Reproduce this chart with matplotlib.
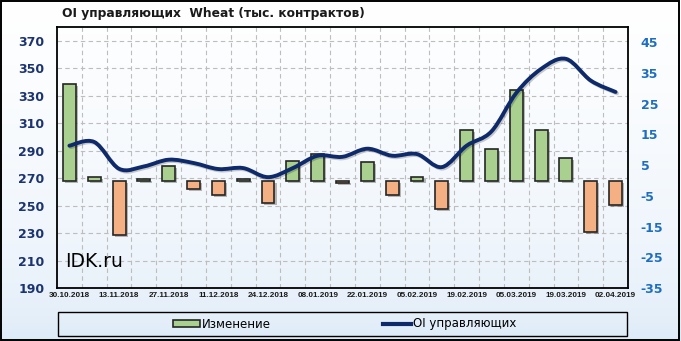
import matplotlib
matplotlib.use("Agg")
import matplotlib.pyplot as plt
import matplotlib.patheffects as pe
from matplotlib.colors import LinearSegmentedColormap
from matplotlib.patches import Rectangle, Patch, PathPatch
from matplotlib.lines import Line2D
from matplotlib.path import Path
import numpy as np

plt.rcParams["axes.unicode_minus"] = False

# ---------------------- Data ---------------------------
dates = ["30.10.2018", "06.11.2018", "13.11.2018", "20.11.2018", "27.11.2018",
         "04.12.2018", "11.12.2018", "18.12.2018", "24.12.2018", "31.12.2018",
         "08.01.2019", "15.01.2019", "22.01.2019", "29.01.2019", "05.02.2019",
         "12.02.2019", "19.02.2019", "26.02.2019", "05.03.2019", "12.03.2019",
         "19.03.2019", "26.03.2019", "02.04.2019"]

# weekly change (right axis)
change = [31.4, 1.3, -17.7, 0.6, 4.7, -2.6, -4.8, 0.6, -7.4, 6.5, 8.8, -0.8,
          6.0, -4.7, 1.1, -9.4, 16.5, 10.3, 29.5, 16.5, 7.3, -16.8, -7.9]

# open interest of managed money (left axis)
oi = [293.6, 296.3, 276.8, 278.5, 283.4, 281.0, 276.6, 277.3, 270.7, 277.3,
      286.3, 285.5, 291.4, 286.3, 287.5, 278.0, 293.6, 304.0, 332.0, 349.5,
      356.8, 341.0, 332.7]

left_ticks = [190, 210, 230, 250, 270, 290, 310, 330, 350, 370]
right_ticks = [-35, -25, -15, -5, 5, 15, 25, 35, 45]

# ---------------------- Styles ---------------------------
green = "#A9D08E"
orange = "#F4B083"
edge = "#262626"
navy = "#0E2A6B"
left_col = "#1B3370"
right_col = "#1E6EC0"

fig = plt.figure(figsize=(6.81, 3.41), dpi=100)

# background gradient
bg = fig.add_axes([0, 0, 1, 1], zorder=-10)
grad = np.linspace(0, 1, 256).reshape(-1, 1) ** 0.45
cmap = LinearSegmentedColormap.from_list("bg", ["#D9E8F7", "#FFFFFF"])
bg.imshow(grad, aspect="auto", cmap=cmap, origin="lower", extent=[0, 1, 0, 1])
bg.set_axis_off()
fig.add_artist(Rectangle((0.002, 0.003), 0.995, 0.994, transform=fig.transFigure,
                         fill=False, edgecolor="black", linewidth=1.4))

pos = [57 / 681, 53 / 341, 571 / 681, 261 / 341]
n = len(dates)
x = np.arange(n)

# ---------------------- Grid / left axis ---------------------------
ax = fig.add_axes(pos)
ax.patch.set_alpha(0)
ax.set_xlim(-0.5, n - 0.5)
ax.set_ylim(190, 380)
ax.set_yticks(left_ticks)
ax.set_xticks(x[::2])
ax.set_xticklabels(dates[::2], fontsize=5.9, fontweight="bold",
                   family=["Liberation Sans", "DejaVu Sans"], color="#1a1a1a")
ax.set_xticks(np.arange(0.5, n - 1, 1), minor=True)
ax.tick_params(axis="x", which="both", length=0, pad=3)
ax.tick_params(axis="y", length=0, pad=9, labelcolor=left_col)
for lab in ax.get_yticklabels():
    lab.set_fontweight("bold")
    lab.set_fontsize(9)
ax.grid(True, axis="y", which="major", color="#BDBDBD", linestyle=(0, (4, 3)), linewidth=0.8)
ax.grid(True, axis="x", which="minor", color="#BDBDBD", linestyle=(0, (4, 3)), linewidth=0.8)
for s in ax.spines.values():
    s.set_linewidth(1.3)
    s.set_color("black")

# ---------------------- Bars (right axis) ---------------------------
axb = ax.twinx()
axb.set_ylim(-35, 50)
axb.set_yticks(right_ticks)
axb.tick_params(axis="y", length=0, pad=9, labelcolor=right_col)
for lab in axb.get_yticklabels():
    lab.set_fontweight("bold")
    lab.set_fontsize(9)
colors = [green if v >= 0 else orange for v in change]
bars = axb.bar(x, change, width=0.52, color=colors, edgecolor=edge, linewidth=1.2)
for b in bars:
    b.set_path_effects([pe.SimplePatchShadow(offset=(1.5, -1.5), alpha=0.35), pe.Normal()])
for s in axb.spines.values():
    s.set_visible(False)

# ---------------------- Smoothed line (left scale) ---------------------------
axl = ax.twinx()
axl.set_ylim(190, 380)
axl.set_yticks([])
for s in axl.spines.values():
    s.set_visible(False)

pts = np.column_stack([x, oi]).astype(float)
ext = np.vstack([pts[0], pts, pts[-1]])
verts = [tuple(pts[0])]
codes = [Path.MOVETO]
for i in range(n - 1):
    p0, p1, p2, p3 = ext[i], ext[i + 1], ext[i + 2], ext[i + 3]
    c1 = p1 + (p2 - p0) / 6.0
    c2 = p2 - (p3 - p1) / 6.0
    verts += [tuple(c1), tuple(c2), tuple(p2)]
    codes += [Path.CURVE4] * 3
line = PathPatch(Path(verts, codes), facecolor="none", edgecolor=navy,
                 linewidth=2.8, capstyle="round", joinstyle="round")
line.set_path_effects([pe.SimpleLineShadow(offset=(1.0, -1.0), alpha=0.2), pe.Normal()])
axl.add_patch(line)

# ---------------------- Texts ---------------------------
fig.text(62 / 681, 1 - 14 / 341, "OI управляющих  Wheat (тыс. контрактов)",
         fontsize=8.8, fontweight="bold", va="center", ha="left", color="#1a1a1a")
ax.text(0.015, 0.1, "IDK.ru", transform=ax.transAxes, fontsize=13.5,
        color="black", va="center", ha="left")

# ---------------------- Legend ---------------------------
fig.add_artist(Rectangle((58 / 681, 5 / 341), 569 / 681, 24 / 341,
                         transform=fig.transFigure, fill=False,
                         edgecolor="black", linewidth=1.0))
handles = [Patch(facecolor=green, edgecolor=edge, linewidth=1.2),
           Line2D([0], [0], color=navy, linewidth=3)]
fig.legend(handles, ["Изменение", "OI управляющих"], ncol=2, loc="center",
           bbox_to_anchor=(0.5 + 4 / 681, 17 / 341), frameon=False,
           fontsize=8.5, handlelength=2.3, handleheight=0.6,
           handletextpad=0.2, columnspacing=9.5)

fig.savefig("out.png", dpi=100)
